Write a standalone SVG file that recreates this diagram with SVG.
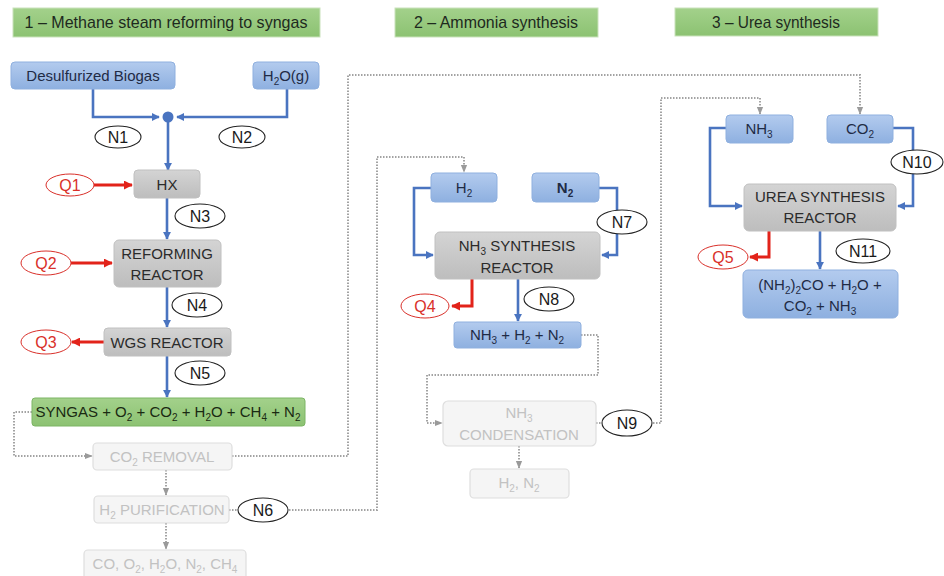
<svg xmlns="http://www.w3.org/2000/svg" width="944" height="576" viewBox="0 0 944 576">
<defs>
<linearGradient id="gBlue" x1="0" y1="0" x2="0" y2="1"><stop offset="0" stop-color="#b3cbee"/><stop offset="1" stop-color="#8eb0e0"/></linearGradient>
<linearGradient id="gGray" x1="0" y1="0" x2="0" y2="1"><stop offset="0" stop-color="#d4d4d4"/><stop offset="1" stop-color="#bdbdbd"/></linearGradient>
<linearGradient id="gGreen" x1="0" y1="0" x2="0" y2="1"><stop offset="0" stop-color="#a3d18b"/><stop offset="1" stop-color="#8cc272"/></linearGradient>
<marker id="aBlue" viewBox="0 0 10 10" refX="9" refY="5" markerWidth="3.2" markerHeight="3.2" orient="auto"><path d="M0 0L10 5L0 10z" fill="#4a74c0"/></marker>
<marker id="aRed" viewBox="0 0 10 10" refX="9" refY="5" markerWidth="3" markerHeight="3" orient="auto"><path d="M0 0L10 5L0 10z" fill="#e2231a"/></marker>
<marker id="aGray" viewBox="0 0 10 10" refX="9" refY="5" markerWidth="4" markerHeight="4" orient="auto"><path d="M0 1L10 5L0 9z" fill="#9a9a9a"/></marker>
</defs>
<style>
text{font-family:"Liberation Sans",Arial,sans-serif;text-anchor:middle}
.title{fill:url(#gGreen);stroke:#c9e2bb;stroke-width:1}
.tt{font-size:17px;fill:#1e2a1e}
.blue{fill:url(#gBlue);stroke:#8fb0df;stroke-width:1}
.gray{fill:url(#gGray);stroke:#c0c0c0;stroke-width:1}
.green{fill:url(#gGreen);stroke:#7cb565;stroke-width:1}
.fade{fill:#f5f5f5;stroke:#dedede;stroke-width:1.2}
.lb{font-size:15px;fill:#1f2b45}
.lg{font-size:15px;fill:#2b2b2b}
.lf{font-size:15px;fill:#c2c2c2}
.ov{fill:#fff;stroke:#222;stroke-width:1.1}
.ovr{fill:#fff;stroke:#d9302a;stroke-width:1}
.on{font-size:16px;fill:#1a1a1a}
.or{font-size:16px;fill:#d9302a}
.cb{fill:none;stroke:#4a74c0;stroke-width:2.6}
.cr{fill:none;stroke:#e2231a;stroke-width:3}
.cd{fill:none;stroke:#a3a3a3;stroke-width:2;stroke-dasharray:1.5 1.5}
.s{font-size:10px}
</style>

<g id="titles">
<g id="title1"><rect class="title" x="13" y="8" width="307" height="29"/><text class="tt" x="166" y="28" textLength="283" lengthAdjust="spacingAndGlyphs">1 – Methane steam reforming to syngas</text></g>
<g id="title2"><rect class="title" x="395" y="8" width="203" height="29"/><text class="tt" x="496" y="28" textLength="164" lengthAdjust="spacingAndGlyphs">2 – Ammonia synthesis</text></g>
<g id="title3"><rect class="title" x="675" y="8" width="203" height="28"/><text class="tt" x="776" y="28" textLength="128" lengthAdjust="spacingAndGlyphs">3 – Urea synthesis</text></g>
</g>

<g id="connectors">
<path class="cb" d="M93 89V117H159" marker-end="url(#aBlue)"/>
<path class="cb" d="M287 89V117H177" marker-end="url(#aBlue)"/>
<path class="cb" d="M168 122V170" marker-end="url(#aBlue)"/>
<path class="cr" d="M94 185H132" marker-end="url(#aRed)"/>
<path class="cb" d="M167 198V239" marker-end="url(#aBlue)"/>
<path class="cr" d="M71 263H112" marker-end="url(#aRed)"/>
<path class="cb" d="M167 287V327" marker-end="url(#aBlue)"/>
<path class="cr" d="M104 342H72" marker-end="url(#aRed)"/>
<path class="cb" d="M167 356V397" marker-end="url(#aBlue)"/>
<path class="cd" d="M32 412H14V456H92" marker-end="url(#aGray)"/>
<path class="cd" d="M232 456H348V75H860V114" marker-end="url(#aGray)"/>
<path class="cd" d="M166 470V495" marker-end="url(#aGray)"/>
<path class="cd" d="M229 510H377V157H464V172" marker-end="url(#aGray)"/>
<path class="cd" d="M166 523V549" marker-end="url(#aGray)"/>
<path class="cb" d="M431 188H414V255H433" marker-end="url(#aBlue)"/>
<path class="cb" d="M599 188H617V255H602" marker-end="url(#aBlue)"/>
<path class="cr" d="M472 279V306H452" marker-end="url(#aRed)"/>
<path class="cb" d="M518 279V321" marker-end="url(#aBlue)"/>
<path class="cd" d="M581 335H598V375H427V423H442" marker-end="url(#aGray)"/>
<path class="cd" d="M519 446V468" marker-end="url(#aGray)"/>
<path class="cd" d="M596 423H661V98H760V114" marker-end="url(#aGray)"/>
<path class="cb" d="M726 128H710V206H742" marker-end="url(#aBlue)"/>
<path class="cb" d="M893 128H913V206H898" marker-end="url(#aBlue)"/>
<path class="cr" d="M769 231V257H750" marker-end="url(#aRed)"/>
<path class="cb" d="M820 231V269" marker-end="url(#aBlue)"/>
<circle cx="168" cy="117" r="5.5" fill="#4a74c0"/>
</g>

<g id="biogas"><rect class="blue" x="11" y="62" width="164" height="27" rx="4"/><text class="lb" x="93" y="81">Desulfurized Biogas</text></g>
<g id="h2o"><rect class="blue" x="253" y="62" width="66" height="27" rx="4"/><text class="lb" x="286" y="81">H<tspan class="s" dy="4">2</tspan><tspan dy="-4">O(g)</tspan></text></g>
<g id="n1"><ellipse class="ov" cx="118" cy="137" rx="23" ry="11"/><text class="on" x="118" y="143">N1</text></g>
<g id="n2"><ellipse class="ov" cx="242" cy="137" rx="23" ry="11"/><text class="on" x="242" y="143">N2</text></g>
<g id="hx"><rect class="gray" x="134" y="170" width="66" height="28" rx="4"/><text class="lg" x="167" y="190">HX</text></g>
<g id="q1"><ellipse class="ovr" cx="70" cy="185" rx="24" ry="11"/><text class="or" x="70" y="191">Q1</text></g>
<g id="n3"><ellipse class="ov" cx="200" cy="216" rx="25" ry="12"/><text class="on" x="200" y="222">N3</text></g>
<g id="reforming"><rect class="gray" x="114" y="240" width="107" height="47" rx="5"/><text class="lg" x="167" y="259">REFORMING</text><text class="lg" x="167" y="280">REACTOR</text></g>
<g id="q2"><ellipse class="ovr" cx="46" cy="263" rx="25" ry="12"/><text class="or" x="46" y="269">Q2</text></g>
<g id="n4"><ellipse class="ov" cx="197" cy="305" rx="25" ry="12"/><text class="on" x="197" y="311">N4</text></g>
<g id="wgs"><rect class="gray" x="104" y="328" width="127" height="28" rx="4"/><text class="lg" x="167" y="348">WGS REACTOR</text></g>
<g id="q3"><ellipse class="ovr" cx="46" cy="342" rx="25" ry="12"/><text class="or" x="46" y="348">Q3</text></g>
<g id="n5"><ellipse class="ov" cx="200" cy="373" rx="25" ry="12"/><text class="on" x="200" y="379">N5</text></g>
<g id="syngas"><rect class="green" x="32" y="398" width="273" height="28" rx="3"/><text class="lg" x="168" y="417" style="fill:#1a2a12">SYNGAS + O<tspan class="s" dy="4">2</tspan><tspan dy="-4"> + CO</tspan><tspan class="s" dy="4">2</tspan><tspan dy="-4"> + H</tspan><tspan class="s" dy="4">2</tspan><tspan dy="-4">O + CH</tspan><tspan class="s" dy="4">4</tspan><tspan dy="-4"> + N</tspan><tspan class="s" dy="4">2</tspan></text></g>
<g id="co2removal"><rect class="fade" x="93" y="443" width="139" height="27" rx="4"/><text class="lf" x="162" y="462">CO<tspan class="s" dy="4">2</tspan><tspan dy="-4"> REMOVAL</tspan></text></g>
<g id="h2pur"><rect class="fade" x="94" y="496" width="135" height="27" rx="4"/><text class="lf" x="162" y="515">H<tspan class="s" dy="4">2</tspan><tspan dy="-4"> PURIFICATION</tspan></text></g>
<g id="n6"><ellipse class="ov" cx="263" cy="510" rx="25" ry="12"/><text class="on" x="263" y="516">N6</text></g>
<g id="waste"><rect class="fade" x="84" y="550" width="162" height="30" rx="4"/><text class="lf" x="165" y="569">CO, O<tspan class="s" dy="4">2</tspan><tspan dy="-4">, H</tspan><tspan class="s" dy="4">2</tspan><tspan dy="-4">O, N</tspan><tspan class="s" dy="4">2</tspan><tspan dy="-4">, CH</tspan><tspan class="s" dy="4">4</tspan></text></g>

<g id="h2"><rect class="blue" x="431" y="173" width="66" height="29" rx="4"/><text class="lb" x="464" y="193">H<tspan class="s" dy="4">2</tspan></text></g>
<g id="n2box"><rect class="blue" x="532" y="173" width="67" height="29" rx="4"/><text class="lb" x="565" y="193" font-weight="bold">N<tspan class="s" dy="4">2</tspan></text></g>
<g id="n7"><ellipse class="ov" cx="622" cy="222" rx="25" ry="12"/><text class="on" x="622" y="228">N7</text></g>
<g id="nh3reactor"><rect class="gray" x="435" y="232" width="165" height="47" rx="5"/><text class="lg" x="517" y="251">NH<tspan class="s" dy="4">3</tspan><tspan dy="-4"> SYNTHESIS</tspan></text><text class="lg" x="517" y="273">REACTOR</text></g>
<g id="q4"><ellipse class="ovr" cx="425" cy="306" rx="24" ry="12"/><text class="or" x="425" y="312">Q4</text></g>
<g id="n8"><ellipse class="ov" cx="549" cy="299" rx="25" ry="12"/><text class="on" x="549" y="305">N8</text></g>
<g id="nh3mix"><rect class="blue" x="454" y="322" width="127" height="26" rx="3"/><text class="lb" x="517" y="340">NH<tspan class="s" dy="4">3</tspan><tspan dy="-4"> + H</tspan><tspan class="s" dy="4">2</tspan><tspan dy="-4"> + N</tspan><tspan class="s" dy="4">2</tspan></text></g>
<g id="condensation"><rect class="fade" x="443" y="401" width="153" height="45" rx="5"/><text class="lf" x="519" y="418">NH<tspan class="s" dy="4">3</tspan></text><text class="lf" x="519" y="440">CONDENSATION</text></g>
<g id="n9"><ellipse class="ov" cx="627" cy="423" rx="25" ry="13"/><text class="on" x="627" y="429">N9</text></g>
<g id="h2n2"><rect class="fade" x="470" y="469" width="99" height="29" rx="4"/><text class="lf" x="519" y="488">H<tspan class="s" dy="4">2</tspan><tspan dy="-4">, N</tspan><tspan class="s" dy="4">2</tspan></text></g>

<g id="nh3"><rect class="blue" x="726" y="115" width="67" height="28" rx="4"/><text class="lb" x="759" y="134">NH<tspan class="s" dy="4">3</tspan></text></g>
<g id="co2"><rect class="blue" x="827" y="115" width="66" height="28" rx="4"/><text class="lb" x="860" y="134">CO<tspan class="s" dy="4">2</tspan></text></g>
<g id="n10"><ellipse class="ov" cx="917" cy="162" rx="26" ry="12"/><text class="on" x="917" y="168">N10</text></g>
<g id="ureareactor"><rect class="gray" x="744" y="184" width="152" height="47" rx="5"/><text class="lg" x="820" y="202">UREA SYNTHESIS</text><text class="lg" x="820" y="223">REACTOR</text></g>
<g id="q5"><ellipse class="ovr" cx="723" cy="257" rx="25" ry="12"/><text class="or" x="723" y="263">Q5</text></g>
<g id="n11"><ellipse class="ov" cx="863" cy="251" rx="27" ry="12"/><text class="on" x="863" y="257">N11</text></g>
<g id="urea"><rect class="blue" x="743" y="270" width="155" height="48" rx="5"/><text class="lb" x="820" y="290">(NH<tspan class="s" dy="4">2</tspan><tspan dy="-4">)</tspan><tspan class="s" dy="4">2</tspan><tspan dy="-4">CO + H</tspan><tspan class="s" dy="4">2</tspan><tspan dy="-4">O +</tspan></text><text class="lb" x="820" y="311">CO<tspan class="s" dy="4">2</tspan><tspan dy="-4"> + NH</tspan><tspan class="s" dy="4">3</tspan></text></g>
</svg>
